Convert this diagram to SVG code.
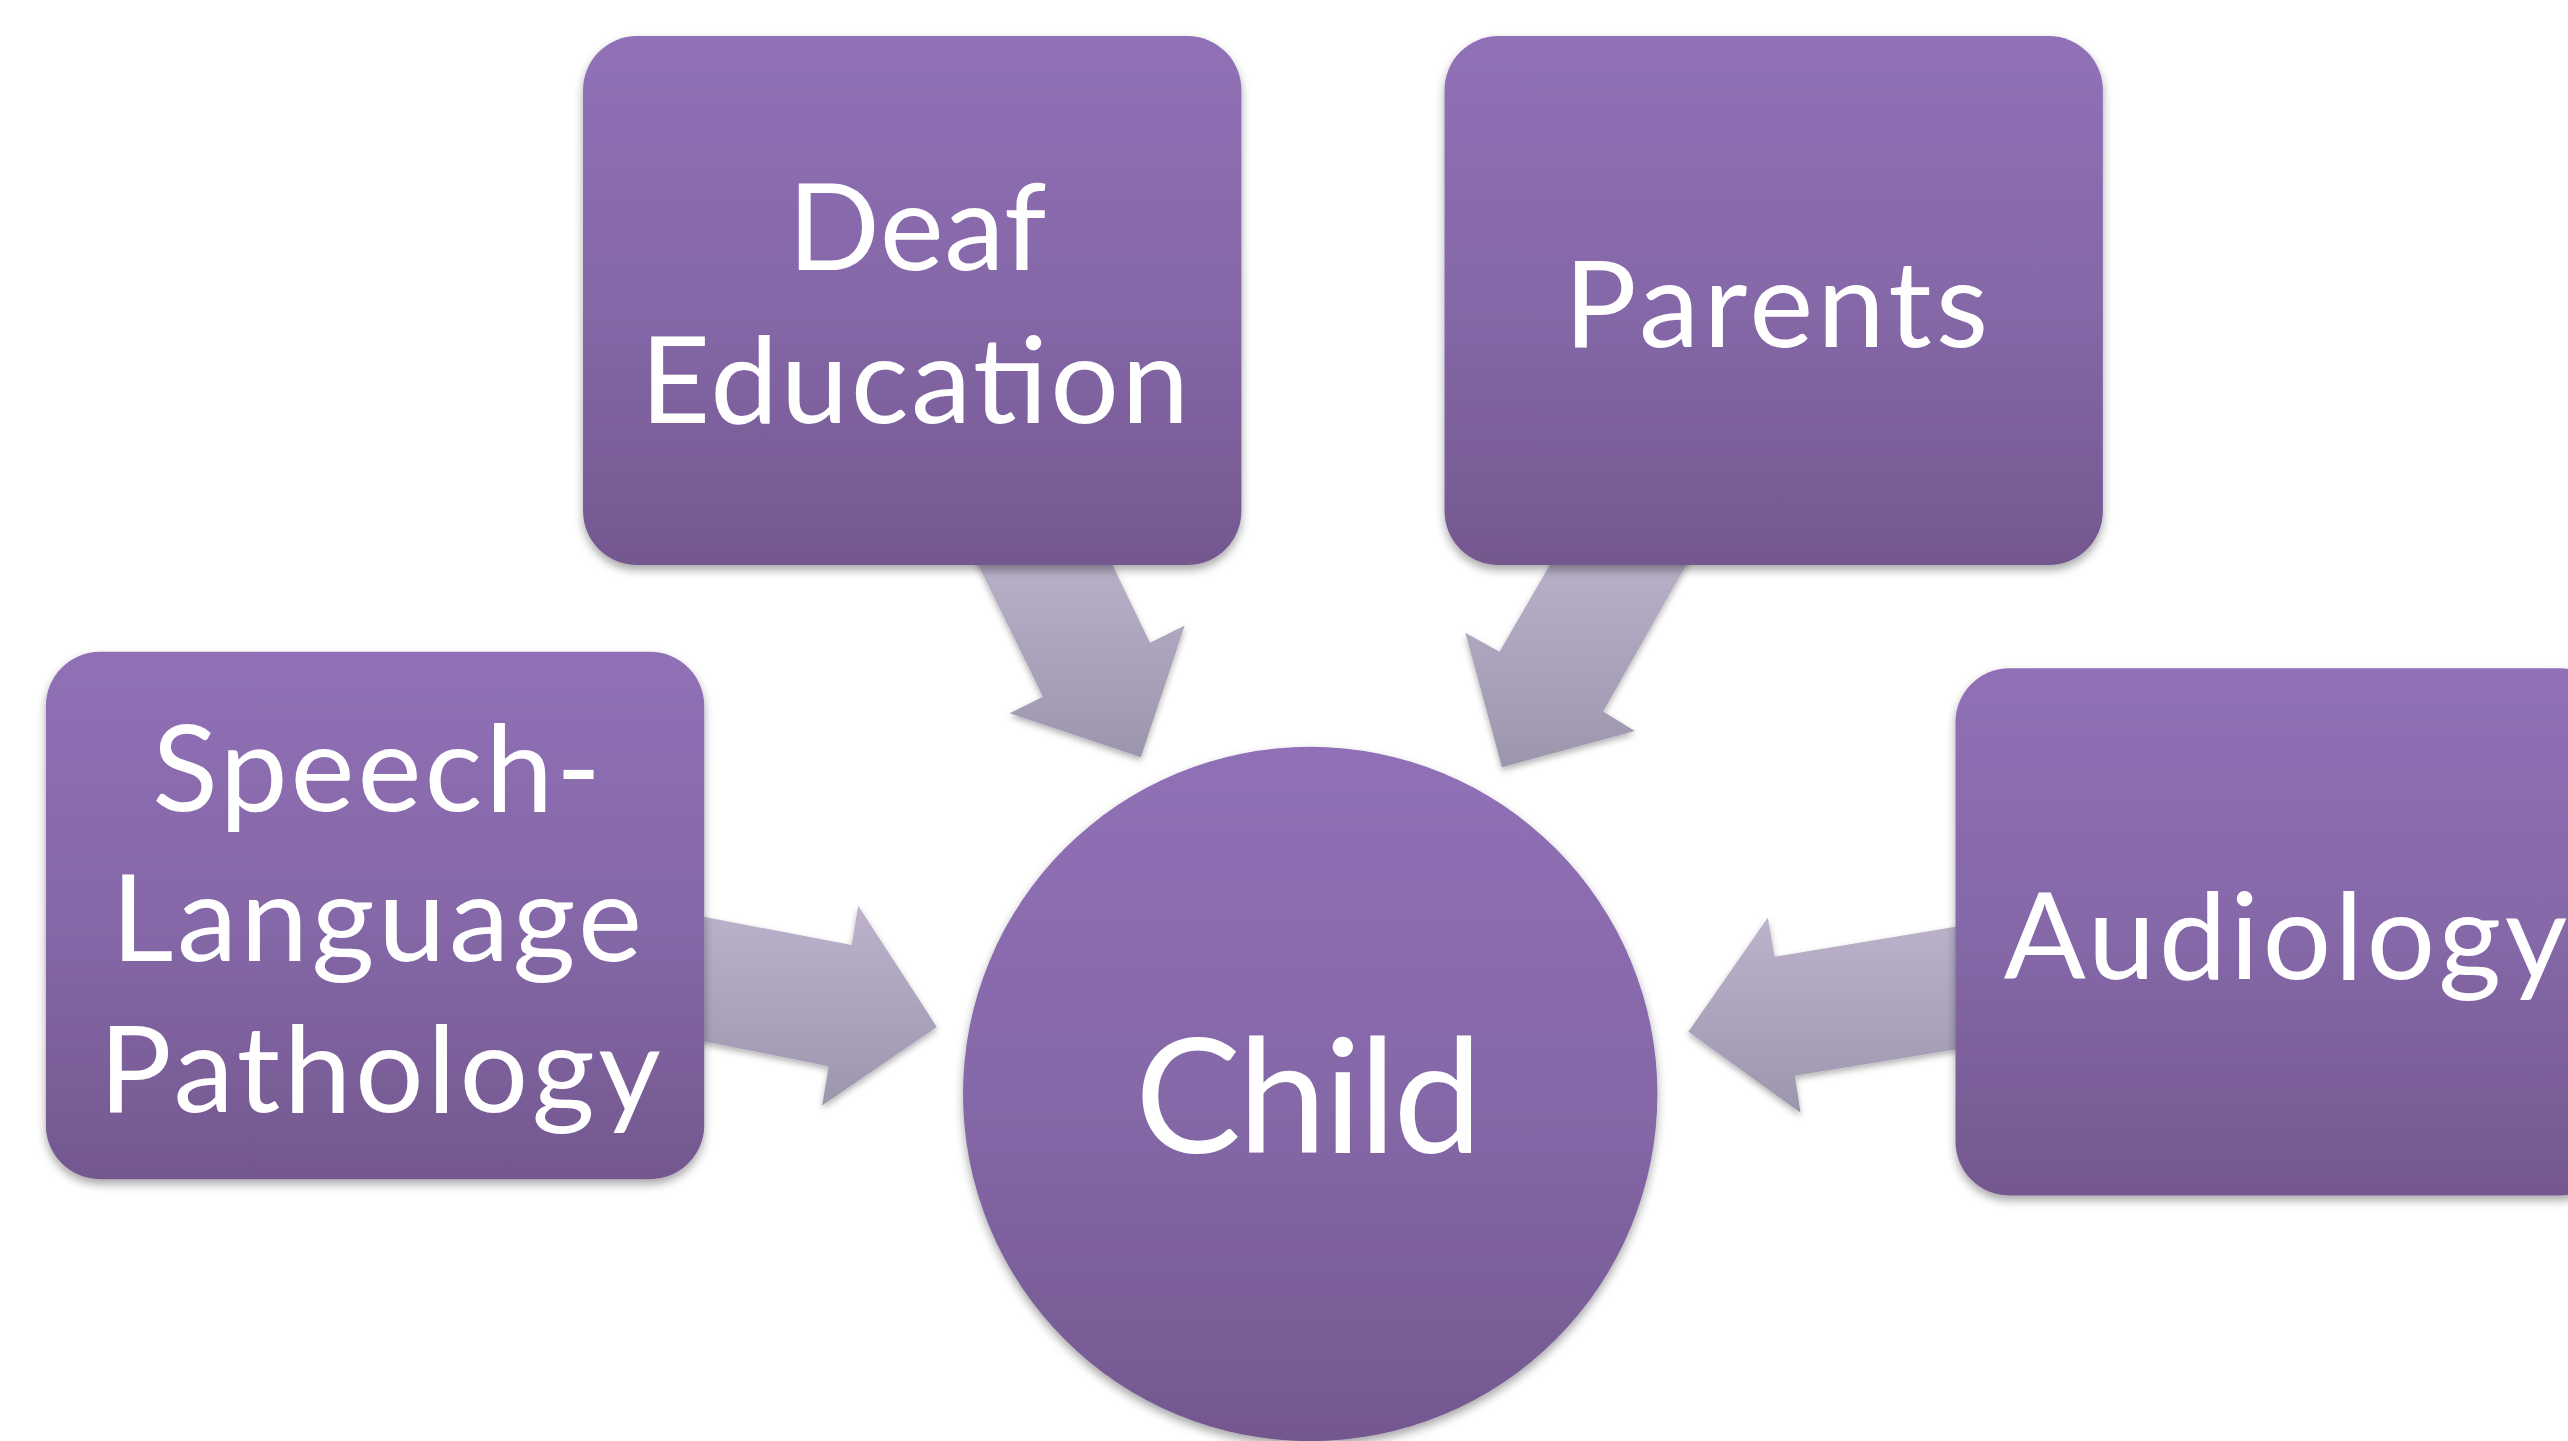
<svg xmlns="http://www.w3.org/2000/svg" width="2568" height="1441" viewBox="0 0 2568 1441">
<style>
.lbl{font-family:Lato,"Open Sans","Noto Sans",sans-serif;fill:#ffffff;text-anchor:middle;font-size:74px}
.big{font-size:97px}
.box{fill:url(#gBox);filter:url(#sh)}
.arr{fill:url(#gArr);filter:url(#sh2)}
</style>
<defs>
<linearGradient id="gBox" x1="0" y1="0" x2="0" y2="1">
<stop offset="0" stop-color="#9070b6"/>
<stop offset="0.5" stop-color="#8568a8"/>
<stop offset="1" stop-color="#73588f"/>
</linearGradient>
<linearGradient id="gArr" x1="0" y1="0" x2="0" y2="1">
<stop offset="0" stop-color="#bcb2cb"/>
<stop offset="1" stop-color="#9c96ad"/>
</linearGradient>
<filter id="sh" x="-10%" y="-10%" width="120%" height="125%">
<feDropShadow dx="0" dy="3" stdDeviation="3" flood-color="#000" flood-opacity="0.35"/>
</filter>
<filter id="sh2" x="-10%" y="-10%" width="120%" height="125%">
<feDropShadow dx="0" dy="2" stdDeviation="2" flood-color="#000" flood-opacity="0.3"/>
</filter>
</defs>
<rect width="2568" height="1441" fill="#ffffff"/>
<g transform="scale(1.63776)">
<g id="connectors">
<polygon class="arr" points="590,330 636.8,425.4 616.5,435.5 696.6,462.4 723.4,382 702.2,392.4 672,330"/>
<polygon class="arr" points="1038,330 978.9,434.5 998.2,446.3 917.1,468.5 894.7,386.3 915.6,397.9 955,330"/>
<polygon class="arr" points="420,558 520,577 524,553 572,627 502,675 506,651 420,634"/>
<polygon class="arr" points="1205,564 1083.6,584.2 1079.4,560.4 1030.9,630 1099.4,679.5 1096,656.8 1205,639"/>
</g>
<g id="node-deaf-education">
<rect class="box" x="356" y="22" width="402" height="323" rx="33" ry="33"/>
<text class="lbl" x="560" y="165" textLength="158">Deaf</text>
<text class="lbl" x="558.5" y="258" textLength="335">Education</text>
</g>
<g id="node-parents">
<rect class="box" x="882" y="22" width="402" height="323" rx="33" ry="33"/>
<text class="lbl" x="1084.5" y="212" textLength="259">Parents</text>
</g>
<g id="node-speech">
<rect class="box" x="28" y="398" width="402" height="322" rx="33" ry="33"/>
<text class="lbl" x="230" y="495" textLength="274">Speech-</text>
<text class="lbl" x="230" y="587" textLength="324">Language</text>
<text class="lbl" x="232" y="679" textLength="343">Pathology</text>
</g>
<g id="node-audiology">
<rect class="box" x="1194" y="408" width="402" height="322" rx="33" ry="33"/>
<text class="lbl" x="1395.5" y="598" textLength="344">Audiology</text>
</g>
<g id="node-child">
<circle cx="800" cy="668" r="212" fill="url(#gBox)" filter="url(#sh)"/>
<text class="lbl big" x="799" y="704" textLength="212">Child</text>
</g>
</g>
</svg>
